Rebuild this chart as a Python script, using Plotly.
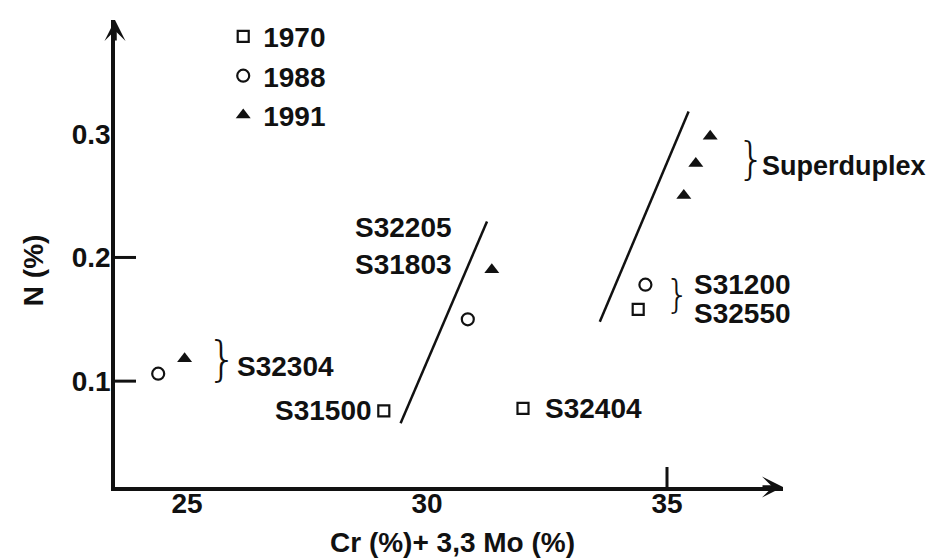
import plotly.graph_objects as go

# Duplex stainless grades: Cr + 3.3 Mo vs nitrogen content, by year of introduction
years = ["1970", "1988", "1991"]

x_1970 = [29.1, 32.0, 34.4]          # S31500, S32404, S32550
n_1970 = [0.076, 0.078, 0.158]

x_1988 = [24.4, 30.85, 34.55]        # S32304, S32205/S31803, S31200
n_1988 = [0.106, 0.150, 0.178]

x_1991 = [24.95, 31.35, 35.35, 35.6, 35.9]   # S32304, S32205/S31803, superduplex
n_1991 = [0.118, 0.190, 0.250, 0.276, 0.298]

# Separating lines between grade families
line_a_x = [29.45, 31.25]
line_a_n = [0.066, 0.229]
line_b_x = [33.6, 35.45]
line_b_n = [0.148, 0.318]

x_tick_vals = [25, 30, 35]
x_tick_text = ["25", "30", "35"]
y_tick_vals = [0.1, 0.2, 0.3]
y_tick_text = ["0.1", "0.2", "0.3"]

FONT = "Liberation Sans, Arial, sans-serif"
BLACK = "#111111"
TXT = dict(family=FONT, size=28, color=BLACK, weight="bold")

fig = go.Figure()

fig.add_trace(go.Scatter(
    x=x_1970, y=n_1970, mode="markers", name=years[0], legendgroup="a",
    marker=dict(symbol="square-open", size=11, color=BLACK, line=dict(width=2.2)),
))
fig.add_trace(go.Scatter(
    x=x_1988, y=n_1988, mode="markers", name=years[1], legendgroup="b",
    marker=dict(symbol="circle-open", size=12, color=BLACK, line=dict(width=2.2)),
))
fig.add_trace(go.Scatter(
    x=x_1991, y=n_1991, mode="markers", name=years[2], legendgroup="c",
    marker=dict(symbol="triangle-up", size=13, color=BLACK),
))
for lx, ly in ((line_a_x, line_a_n), (line_b_x, line_b_n)):
    fig.add_trace(go.Scatter(
        x=lx, y=ly, mode="lines", showlegend=False, hoverinfo="skip",
        line=dict(color=BLACK, width=2.5),
    ))

X_RANGE = [23.5, 37.4167]
Y_RANGE = [0.0144, 0.392]

# Grade labels
labels = [
    dict(text="S32304", x=26.0, y=0.112, xanchor="left", size=28),
    dict(text="S31500", x=28.9, y=0.076, xanchor="right", size=28),
    dict(text="S32205", x=28.46, y=0.224, xanchor="left", size=28),
    dict(text="S31803", x=28.46, y=0.1944, xanchor="left", size=28),
    dict(text="S32404", x=32.42, y=0.0776, xanchor="left", size=28),
    dict(text="S31200", x=35.52, y=0.1784, xanchor="left", size=28),
    dict(text="S32550", x=35.52, y=0.1544, xanchor="left", size=28),
    dict(text="Superduplex", x=36.94, y=0.2736, xanchor="left", size=27),
]
annotations = []
for lb in labels:
    annotations.append(dict(
        text=lb["text"], x=lb["x"], y=lb["y"], xref="x", yref="y",
        xanchor=lb["xanchor"], yanchor="middle", showarrow=False,
        font=dict(TXT, size=lb["size"]),
    ))

# Curly braces grouping labels (thin strokes)
BRACE_FONT = "DejaVu Sans, Liberation Sans, sans-serif"
for bx, by, bs in ((25.73, 0.118, 48), (35.21, 0.170, 39), (36.77, 0.280, 45)):
    annotations.append(dict(
        text="}", x=bx, y=by, xref="x", yref="y", xanchor="center",
        yanchor="middle", showarrow=False,
        font=dict(family=BRACE_FONT, size=bs, color=BLACK, weight=200),
    ))

# Axis titles
annotations.append(dict(
    text="Cr (%)+ 3,3 Mo (%)", x=0.5045, y=-0.119, xref="paper", yref="paper",
    xanchor="center", yanchor="middle", showarrow=False, font=TXT,
))
annotations.append(dict(
    text="N (%)", x=-0.123, y=0.464, xref="paper", yref="paper",
    xanchor="center", yanchor="middle", showarrow=False, textangle=-90,
    font=TXT,
))

# Arrowheads at the ends of both axes
annotations.append(dict(
    x=X_RANGE[1], y=Y_RANGE[0], xref="x", yref="y", ax=-22, ay=0,
    axref="pixel", ayref="pixel", text="", showarrow=True,
    arrowhead=3, arrowsize=1.0, arrowwidth=3.5, arrowcolor=BLACK, standoff=0,
))
annotations.append(dict(
    x=X_RANGE[0], y=Y_RANGE[1], xref="x", yref="y", ax=0, ay=22,
    axref="pixel", ayref="pixel", text="", showarrow=True,
    arrowhead=3, arrowsize=1.0, arrowwidth=3.5, arrowcolor=BLACK, standoff=0,
))

# Tick marks: one on the x axis at 35, two on the y axis
shapes = [
    dict(type="line", xref="x", yref="y", x0=35, x1=35, ysizemode="pixel",
         yanchor=Y_RANGE[0], y0=0, y1=20, line=dict(color=BLACK, width=3)),
]
for v in (0.1, 0.2):
    shapes.append(dict(type="line", xref="x", yref="y", y0=v, y1=v,
                       xsizemode="pixel", xanchor=X_RANGE[0], x0=0, x1=21,
                       line=dict(color=BLACK, width=3)))

fig.update_layout(
    width=934, height=560, autosize=False,
    margin=dict(l=115, r=151, t=15, b=73, pad=0),
    paper_bgcolor="white", plot_bgcolor="white",
    font=TXT,
    showlegend=True,
    legend=dict(
        x=0.162, y=1.018, xanchor="left", yanchor="top",
        bgcolor="rgba(0,0,0,0)", borderwidth=0,
        font=TXT, tracegroupgap=0, itemwidth=30,
    ),
    xaxis=dict(
        range=X_RANGE, showgrid=False, zeroline=False,
        showline=True, linewidth=3.5, linecolor=BLACK,
        tickvals=x_tick_vals, ticktext=x_tick_text, ticks="", ticklen=0,
        tickfont=TXT, ticklabelstandoff=-11,
    ),
    yaxis=dict(
        range=Y_RANGE, showgrid=False, zeroline=False,
        showline=True, linewidth=3.5, linecolor=BLACK,
        tickvals=y_tick_vals, ticktext=y_tick_text, ticks="", ticklen=0,
        tickfont=TXT, ticklabelstandoff=-5,
    ),
    annotations=annotations,
    shapes=shapes,
)

fig.write_html("out.html")
